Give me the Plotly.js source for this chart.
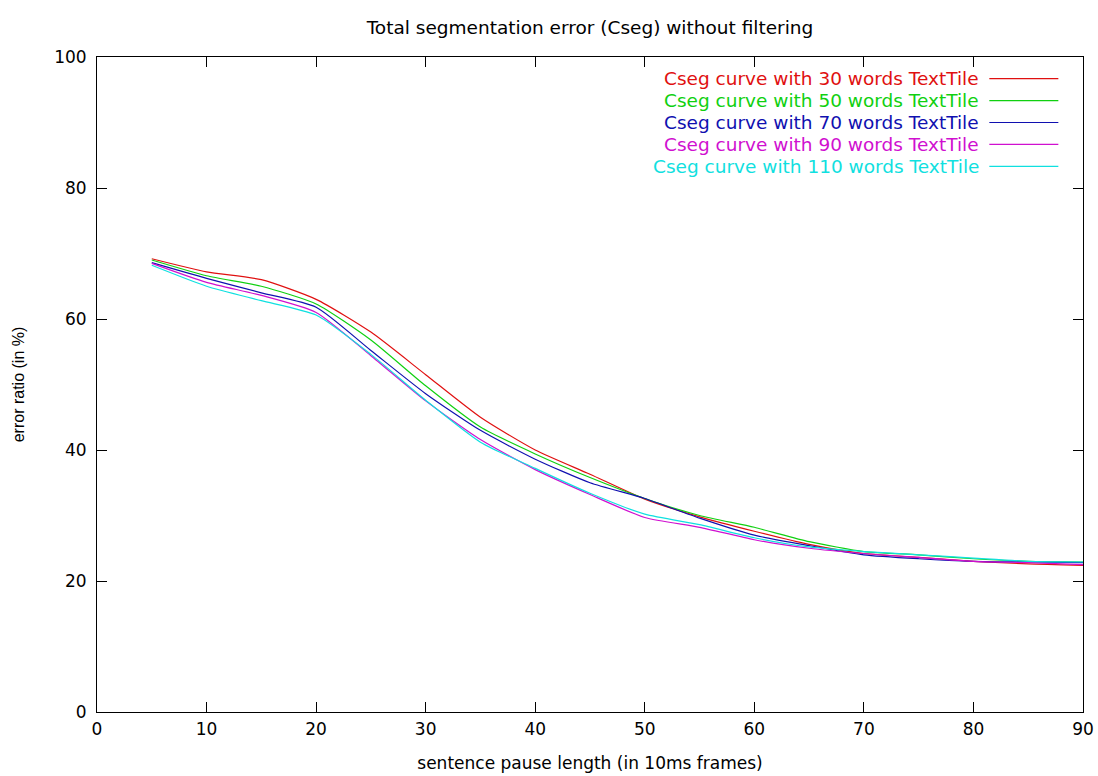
<!DOCTYPE html>
<html>
<head>
<meta charset="utf-8">
<script src="https://cdn.plot.ly/plotly-3.0.1.min.js"></script>
<style>body{margin:0;background:#fff;} #chart{width:1098px;height:776px;}</style>
</head>
<body>
<div id="chart"></div>
<script>
const pauseLength = [5, 10, 15, 20, 25, 30, 35, 40, 45, 50, 55, 60, 65, 70, 75, 80, 85, 90];
const cseg30  = [69.2, 67.2, 66.0, 63.0, 58.0, 51.5, 45.0, 40.0, 36.3, 32.5, 29.8, 27.6, 25.6, 24.2, 23.6, 23.0, 22.6, 22.4];
const cseg50  = [69.0, 66.6, 65.0, 62.3, 56.8, 49.8, 43.5, 39.4, 35.8, 32.6, 30.0, 28.2, 26.0, 24.5, 24.0, 23.4, 23.0, 22.9];
const cseg70  = [68.6, 66.2, 64.0, 61.8, 55.2, 48.6, 43.0, 38.6, 35.0, 32.6, 29.6, 27.0, 25.4, 24.0, 23.4, 23.0, 22.9, 22.8];
const cseg90  = [68.5, 65.6, 63.6, 61.0, 54.4, 47.5, 41.6, 37.0, 33.2, 29.7, 28.2, 26.3, 25.0, 24.2, 23.6, 23.0, 22.8, 22.5];
const cseg110 = [68.2, 65.0, 62.8, 60.6, 54.6, 47.6, 41.2, 37.2, 33.4, 30.2, 28.6, 26.6, 25.2, 24.5, 24.0, 23.5, 23.0, 22.9];
const seriesNames = [
  "Cseg curve with 30 words TextTile",
  "Cseg curve with 50 words TextTile",
  "Cseg curve with 70 words TextTile",
  "Cseg curve with 90 words TextTile",
  "Cseg curve with 110 words TextTile"
];
const seriesValues = [cseg30, cseg50, cseg70, cseg90, cseg110];
const seriesColors = ["#e01010", "#10d010", "#1010b0", "#d010d0", "#10e0e0"];
const xTicks = [0, 10, 20, 30, 40, 50, 60, 70, 80, 90];
const yTicks = [0, 20, 40, 60, 80, 100];

const FONT = "DejaVu Sans, Arial, sans-serif";
const FONT_V = "Liberation Sans, Arial, sans-serif";

const traces = seriesValues.map((vals, i) => ({
  x: pauseLength,
  y: vals,
  type: "scatter",
  mode: "lines",
  name: seriesNames[i],
  line: {color: seriesColors[i], width: 1.2, shape: "spline", smoothing: 0.6},
  showlegend: false
}));

// legend drawn as right-aligned coloured text + sample line (gnuplot style)
const annotations = [];
const shapes = [];
const rowTop = 0.967, rowStep = 0.0335;
seriesNames.forEach((name, i) => {
  const yy = rowTop - i * rowStep;
  annotations.push({
    xref: "paper", yref: "paper", x: 0.897, y: yy,
    xanchor: "right", yanchor: "middle", showarrow: false,
    text: name, font: {family: FONT, size: 18.5, color: seriesColors[i]}
  });
  shapes.push({
    type: "line", xref: "paper", yref: "paper",
    x0: 0.905, x1: 0.975, y0: yy, y1: yy,
    line: {color: seriesColors[i], width: 1.2}
  });
});

const axisCommon = {
  showgrid: false, zeroline: false, showline: true, mirror: "ticks",
  linecolor: "#000", linewidth: 1, ticks: "inside", ticklen: 10,
  tickcolor: "#000", tickfont: {family: FONT, size: 17, color: "#000"}
};

const layout = {
  width: 1098, height: 776,
  paper_bgcolor: "#fff", plot_bgcolor: "#fff",
  margin: {l: 97, r: 15, t: 57, b: 64},
  title: {text: "Total segmentation error (Cseg) without filtering",
          font: {family: FONT, size: 18.5, color: "#000"},
          x: 0.5, xref: "paper", y: 0.965, yanchor: "middle"},
  xaxis: Object.assign({}, axisCommon, {
    range: [0, 90], tickvals: xTicks, ticktext: xTicks.map(String),
    ticklabelstandoff: 2,
    title: {text: "sentence pause length (in 10ms frames)", font: {family: FONT, size: 17, color: "#000"}, standoff: 18}
  }),
  yaxis: Object.assign({}, axisCommon, {
    range: [0, 100], tickvals: yTicks, ticktext: yTicks.map(String),
    ticklabelstandoff: 6,
    title: {text: "error ratio (in %)", font: {family: FONT_V, size: 16, color: "#000"}, standoff: 25}
  }),
  annotations: annotations,
  shapes: shapes
};

Plotly.newPlot("chart", traces, layout, {displayModeBar: false, staticPlot: true});
</script>
</body>
</html>
